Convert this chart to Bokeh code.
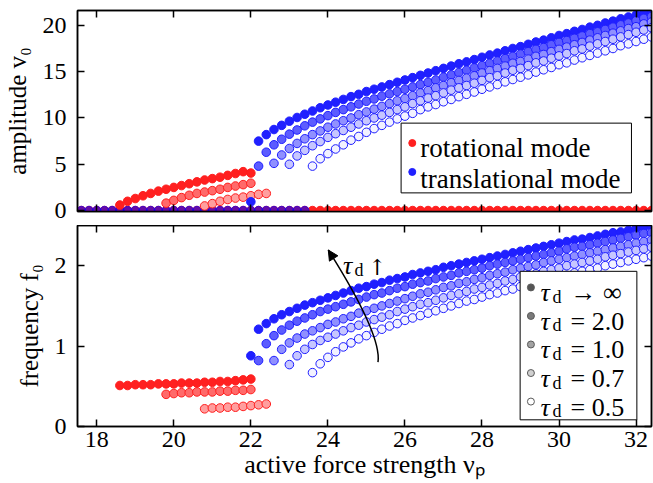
from bokeh.plotting import figure
from bokeh.layouts import column
from bokeh.models import Range1d, LinearAxis, FixedTicker, CustomJSTickFormatter, Arrow, NormalHead
from bokeh.core.properties import value
from bokeh.embed import file_html
from bokeh.resources import INLINE

# ---------------- data ----------------
STEP = 0.2
X_RANGE = (17.5, 32.4)
V_RANGE = (-0.1, 21.6)
F_RANGE = (0.0, 2.5)
X_TICKS = [18, 20, 22, 24, 26, 28, 30, 32]
V_TICKS = [0, 5, 10, 15, 20]
F_TICKS = [0, 1, 2]

# rotational mode (start x, amplitude, frequency)
ROT_X0 = [18.6, 19.8, 20.8]
ROT_V = [
    [0.6, 1.0, 1.3, 1.6, 1.85, 2.1, 2.3, 2.5, 2.7, 2.9, 3.1, 3.3, 3.45, 3.6, 3.8, 4.0, 4.2, 4.05],
    [0.8, 1.1, 1.4, 1.65, 1.85, 2.0, 2.15, 2.3, 2.5, 2.65, 2.8, 2.95],
    [0.5, 0.75, 1.0, 1.2, 1.35, 1.45, 1.6, 1.75, 1.85],
]
ROT_F = [
    [0.51, 0.51, 0.52, 0.52, 0.52, 0.53, 0.53, 0.53, 0.54, 0.54, 0.54, 0.55, 0.55, 0.56, 0.56, 0.57, 0.58, 0.59],
    [0.40, 0.41, 0.42, 0.42, 0.43, 0.43, 0.43, 0.44, 0.44, 0.45, 0.45, 0.46],
    [0.22, 0.23, 0.23, 0.24, 0.24, 0.25, 0.26, 0.27, 0.28],
]

# translational mode, tau_d -> inf, 2.0, 1.0, 0.7, 0.5
TRA_X0 = [22.0, 22.2, 22.6, 23.0, 23.6]
TRA_V = [
    [0.95, 7.5, 8.2, 8.75, 9.2, 9.65, 10.05, 10.4, 10.75, 11.1, 11.4, 11.7, 12.0, 12.3, 12.55, 12.85, 13.1, 13.35,
     13.6, 13.85, 14.1, 14.35, 14.6, 14.85, 15.1, 15.35, 15.6, 15.85, 16.05, 16.3, 16.55, 16.8, 17.0, 17.25, 17.5,
     17.7, 17.95, 18.2, 18.4, 18.65, 18.9, 19.1, 19.35, 19.55, 19.8, 20.0, 20.25, 20.45, 20.7, 20.9, 21.1, 21.35, 21.55],
    [4.8, 6.3, 7.1, 7.7, 8.25, 8.7, 9.15, 9.55, 9.9, 10.25, 10.6, 10.9, 11.2, 11.5, 11.8, 12.05, 12.35, 12.6, 12.85,
     13.1, 13.35, 13.6, 13.85, 14.1, 14.4, 14.65, 14.9, 15.15, 15.4, 15.65, 15.9, 16.15, 16.4, 16.65, 16.9, 17.15,
     17.4, 17.6, 17.9, 18.15, 18.35, 18.6, 18.85, 19.1, 19.3, 19.55, 19.8, 20.05, 20.25, 20.5, 20.75, 20.95],
    [5.1, 6.0, 6.7, 7.25, 7.75, 8.2, 8.6, 9.0, 9.35, 9.7, 10.0, 10.35, 10.65, 10.95, 11.25, 11.55, 11.85, 12.1, 12.4,
     12.7, 12.95, 13.25, 13.5, 13.8, 14.05, 14.3, 14.55, 14.85, 15.1, 15.35, 15.6, 15.9, 16.1, 16.35, 16.65, 16.85,
     17.15, 17.4, 17.65, 17.9, 18.15, 18.4, 18.65, 18.9, 19.15, 19.4, 19.65, 19.85, 20.15, 20.35],
    [5.0, 5.9, 6.5, 7.0, 7.45, 7.9, 8.3, 8.65, 9.0, 9.35, 9.7, 10.0, 10.3, 10.6, 10.9, 11.2, 11.55, 11.85, 12.15,
     12.4, 12.7, 13.0, 13.25, 13.5, 13.75, 14.05, 14.35, 14.55, 14.85, 15.15, 15.35, 15.65, 15.95, 16.15, 16.45,
     16.7, 16.95, 17.25, 17.45, 17.75, 18.0, 18.25, 18.5, 18.75, 19.0, 19.25, 19.5, 19.75],
    [4.8, 5.6, 6.15, 6.65, 7.1, 7.6, 8.0, 8.45, 8.85, 9.2, 9.55, 9.9, 10.2, 10.5, 10.9, 11.2, 11.45, 11.75, 12.0,
     12.3, 12.55, 12.8, 13.1, 13.35, 13.6, 13.9, 14.15, 14.4, 14.65, 14.95, 15.2, 15.45, 15.75, 15.95, 16.25, 16.5,
     16.75, 17.0, 17.25, 17.5, 17.8, 18.0, 18.25, 18.5, 18.75],
]
TRA_F = [
    [0.88, 1.21, 1.28, 1.34, 1.39, 1.43, 1.47, 1.51, 1.54, 1.57, 1.60, 1.63, 1.66, 1.69, 1.72, 1.74, 1.77, 1.79,
     1.82, 1.84, 1.86, 1.89, 1.91, 1.93, 1.95, 1.98, 2.00, 2.02, 2.04, 2.06, 2.08, 2.10, 2.12, 2.14, 2.16, 2.18,
     2.20, 2.22, 2.24, 2.26, 2.28, 2.30, 2.32, 2.33, 2.35, 2.37, 2.39, 2.41, 2.42, 2.44, 2.46, 2.48, 2.49],
    [0.82, 1.03, 1.13, 1.20, 1.26, 1.31, 1.35, 1.39, 1.43, 1.46, 1.49, 1.52, 1.55, 1.58, 1.61, 1.64, 1.66, 1.69,
     1.72, 1.74, 1.77, 1.79, 1.81, 1.84, 1.86, 1.88, 1.91, 1.93, 1.95, 1.97, 2.00, 2.02, 2.04, 2.06, 2.08, 2.10,
     2.12, 2.14, 2.16, 2.18, 2.21, 2.23, 2.24, 2.26, 2.28, 2.30, 2.32, 2.34, 2.36, 2.38, 2.40, 2.41],
    [0.82, 0.96, 1.04, 1.10, 1.15, 1.19, 1.23, 1.27, 1.30, 1.34, 1.37, 1.41, 1.44, 1.47, 1.50, 1.53, 1.56, 1.59,
     1.62, 1.65, 1.67, 1.70, 1.73, 1.75, 1.78, 1.80, 1.83, 1.85, 1.88, 1.90, 1.92, 1.95, 1.97, 1.99, 2.01, 2.04,
     2.06, 2.08, 2.10, 2.12, 2.14, 2.16, 2.18, 2.20, 2.22, 2.24, 2.26, 2.28, 2.30, 2.32],
    [0.77, 0.88, 0.96, 1.02, 1.07, 1.11, 1.15, 1.19, 1.23, 1.26, 1.30, 1.33, 1.36, 1.39, 1.43, 1.46, 1.49, 1.52,
     1.54, 1.57, 1.60, 1.63, 1.65, 1.68, 1.71, 1.73, 1.76, 1.78, 1.81, 1.83, 1.86, 1.88, 1.90, 1.93, 1.95, 1.97,
     2.00, 2.02, 2.04, 2.06, 2.08, 2.11, 2.13, 2.15, 2.17, 2.19, 2.21, 2.23],
    [0.67, 0.78, 0.86, 0.93, 0.99, 1.04, 1.09, 1.13, 1.17, 1.21, 1.25, 1.28, 1.32, 1.35, 1.38, 1.41, 1.44, 1.47,
     1.50, 1.53, 1.56, 1.58, 1.61, 1.64, 1.66, 1.69, 1.71, 1.74, 1.76, 1.79, 1.81, 1.84, 1.86, 1.88, 1.91, 1.93,
     1.95, 1.97, 2.00, 2.02, 2.04, 2.06, 2.08, 2.10, 2.12],
]

# zero-amplitude states (v0 = 0)
ROT_ZERO_X0, ROT_ZERO_N = 17.6, 75
TRA_ZERO_X0, TRA_ZERO_N = 17.6, 30

TAU_LABELS = ["\u2192 \u221e", "= 2.0", "= 1.0", "= 0.7", "= 0.5"]
MODE_LABELS = ["rotational mode", "translational mode"]

# ---------------- styles ----------------
FONT = "Liberation Serif"
BLUE_LINE = "#1e1eff"
BLUE_FILLS = ["#2020ff", "#5c5cff", "#9090ff", "#c6c6ff", "#f2f2ff"]
RED_LINE = "#ff1e1e"
RED_FILLS = ["#ff2020", "#ff6a6a", "#ff9e9e"]
GRAY_FILLS = ["#555555", "#7a7a7a", "#a2a2a2", "#d0d0d0", "#ffffff"]
GRAY_LINE = "#5a5a5a"
MS = 8.6
W = 653


def xs(x0, n):
    return [round(x0 + STEP * i, 1) for i in range(n)]


def make_fig(height, y_range, y_ticks, ylabel, mbt, mbb, show_x_labels):
    p = figure(width=W, height=height, x_range=Range1d(*X_RANGE), y_range=Range1d(*y_range),
               output_backend="svg", toolbar_location=None,
               min_border_left=75, min_border_right=2, min_border_top=mbt, min_border_bottom=mbb)
    p.grid.visible = False
    p.outline_line_color = "black"
    p.outline_line_width = 1.5
    bx = p.below[0]
    ly = p.left[0]
    bx.ticker = FixedTicker(ticks=X_TICKS)
    ly.ticker = FixedTicker(ticks=y_ticks)
    top = LinearAxis(ticker=FixedTicker(ticks=X_TICKS),
                     formatter=CustomJSTickFormatter(code="return '';"))
    right = LinearAxis(ticker=FixedTicker(ticks=y_ticks),
                       formatter=CustomJSTickFormatter(code="return '';"))
    p.add_layout(top, "above")
    p.add_layout(right, "right")
    for ax in (bx, ly, top, right):
        ax.major_tick_in = 7
        ax.major_tick_out = 0
        ax.minor_tick_in = 0
        ax.minor_tick_out = 0
        ax.major_tick_line_width = 1.5
        ax.major_tick_line_color = "black"
        ax.axis_line_width = 1.5
        ax.axis_line_color = "black"
        ax.major_label_text_font = FONT
        ax.major_label_text_font_size = "24px"
        ax.major_label_text_color = "black"
        ax.axis_label_text_font = FONT
        ax.axis_label_text_font_size = "25px"
        ax.axis_label_text_font_style = "normal"
        ax.axis_label_text_color = "black"
    for ax in (top, right):
        ax.major_label_standoff = 0
        ax.major_label_text_font_size = "0px"
    ly.major_label_standoff = 11
    ly.axis_label = ylabel
    ly.axis_label_standoff = 9
    if show_x_labels:
        bx.major_label_standoff = 5
        bx.axis_label = "active force strength \u03bd\u209a"
        bx.axis_label_text_font_size = "26px"
        bx.axis_label_standoff = 0
    else:
        bx.formatter = CustomJSTickFormatter(code="return '';")
        bx.major_label_standoff = 0
        bx.major_label_text_font_size = "0px"
    return p


p1 = make_fig(225, V_RANGE, V_TICKS, "amplitude v\u2080", 10, 14, False)
p2 = make_fig(258, F_RANGE, F_TICKS, "frequency f\u2080", 0, 57, True)

# zero states in the amplitude panel
p1.scatter(xs(ROT_ZERO_X0, ROT_ZERO_N), [0.0] * ROT_ZERO_N, size=MS, fill_color=RED_FILLS[0],
           line_color=RED_LINE, line_width=1)
p1.scatter(xs(TRA_ZERO_X0, TRA_ZERO_N), [0.0] * TRA_ZERO_N, size=MS, fill_color="#0000ff",
           line_color="#0000ff", fill_alpha=0.6, line_alpha=0.6)

for x0, v, f, fill in zip(ROT_X0, ROT_V, ROT_F, RED_FILLS):
    p1.scatter(xs(x0, len(v)), v, size=MS, fill_color=fill, line_color=RED_LINE, line_width=1)
    p2.scatter(xs(x0, len(f)), f, size=MS, fill_color=fill, line_color=RED_LINE, line_width=1)

for x0, v, f, fill in zip(TRA_X0, TRA_V, TRA_F, BLUE_FILLS):
    p1.scatter(xs(x0, len(v)), v, size=MS, fill_color=fill, line_color=BLUE_LINE, line_width=1)
    p2.scatter(xs(x0, len(f)), f, size=MS, fill_color=fill, line_color=BLUE_LINE, line_width=1)

# ---- legend: modes (top panel) ----
p1.quad(left=[25.9], right=[31.88], bottom=[1.91], top=[9.44], fill_color="white",
        line_color="black", line_width=1, level="overlay")
p1.scatter([26.19, 26.19], [7.29, 4.17], size=7, fill_color=[RED_FILLS[0], BLUE_FILLS[0]],
           line_color=[RED_LINE, BLUE_LINE], level="overlay")
p1.text([26.4, 26.4], [6.72, 3.46], text=MODE_LABELS, text_font=value(FONT), text_font_size="27px",
        text_baseline="alphabetic", text_color="black", level="overlay")

# ---- legend: tau_d (bottom panel) ----
LEG_Y = [1.73, 1.375, 1.02, 0.665, 0.31]
p2.quad(left=[28.99], right=[32.02], bottom=[0.083], top=[1.93], fill_color="white",
        line_color="black", line_width=1, level="overlay")
p2.scatter([29.27] * 5, LEG_Y, size=7, fill_color=GRAY_FILLS, line_color=GRAY_LINE, level="overlay")
base = [y - 0.068 for y in LEG_Y]
p2.text([29.52] * 5, base, text=["\u03c4"] * 5, text_font=value(FONT), text_font_size="26px",
        text_font_style="italic", text_baseline="alphabetic", text_color="black", level="overlay")
p2.text([29.83] * 5, [b - 0.05 for b in base], text=["d"] * 5, text_font=value(FONT),
        text_font_size="18px", text_baseline="alphabetic", text_color="black", level="overlay")
p2.text([30.30] * 5, base, text=TAU_LABELS, text_font=value(FONT), text_font_size="26px",
        text_baseline="alphabetic", text_color="black", level="overlay")

# ---- curved arrow "tau_d increasing" ----
ARROW_TAIL = (25.30, 0.80)
ARROW_CTRL = (25.40, 1.14)
ARROW_HEAD = (24.01, 2.195)
p2.quadratic(x0=[ARROW_TAIL[0]], y0=[ARROW_TAIL[1]], x1=[ARROW_HEAD[0]], y1=[ARROW_HEAD[1]],
             cx=[ARROW_CTRL[0]], cy=[ARROW_CTRL[1]], line_color="black", line_width=1.5)
p2.add_layout(Arrow(end=NormalHead(size=10, fill_color="black", line_color="black"),
                    x_start=24.08, y_start=2.142, x_end=ARROW_HEAD[0], y_end=ARROW_HEAD[1],
                    line_width=1.5, line_color="black"))
p2.text([24.39], [2.0], text=["\u03c4"], text_font=value(FONT), text_font_size="26px",
        text_font_style="italic", text_baseline="alphabetic", text_color="black")
p2.text([24.69], [1.95], text=["d"], text_font=value(FONT), text_font_size="18px",
        text_baseline="alphabetic", text_color="black")
p2.text([25.04], [1.98], text=["\u2191"], text_font=value("DejaVu Serif"), text_font_size="22px",
        text_baseline="alphabetic", text_color="black")

layout = column(p1, p2, spacing=0)
open("out.html", "w").write(file_html(layout, INLINE))
